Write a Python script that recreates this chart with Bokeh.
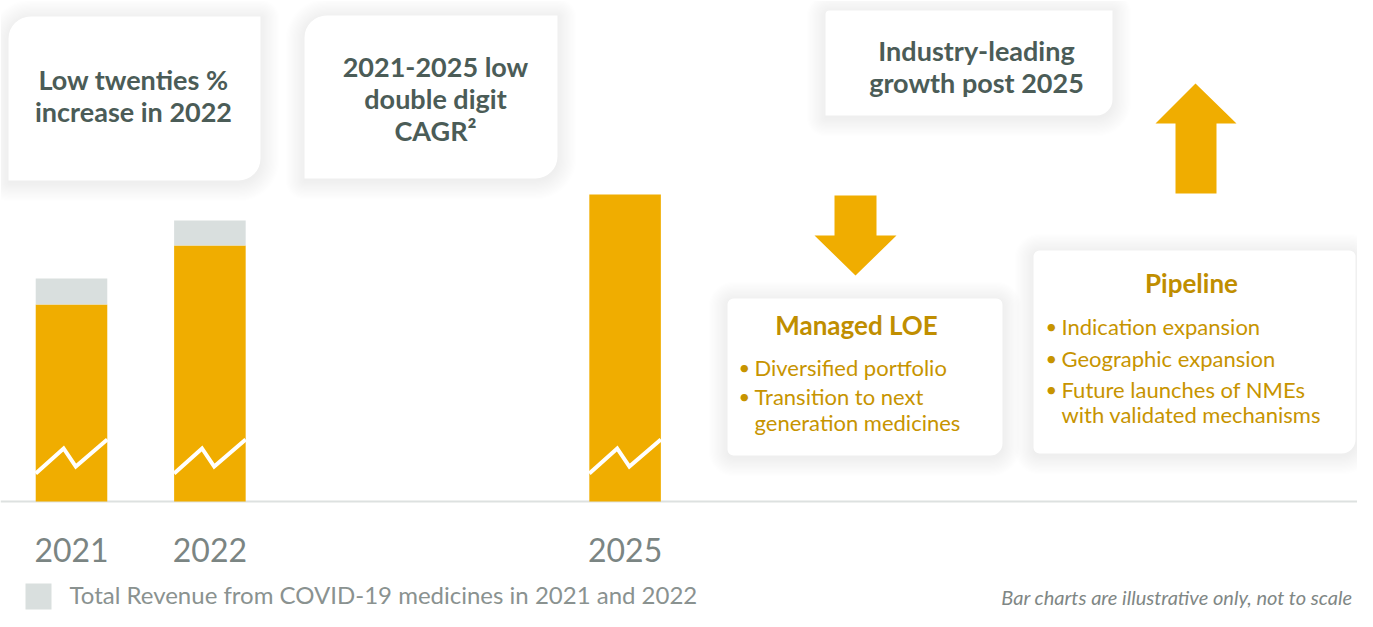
from bokeh.plotting import figure
from bokeh.models import Range1d
from bokeh.core.properties import value
from bokeh.embed import file_html
from bokeh.resources import INLINE

# ---- data (illustrative index units, 2021 total = 100) ----
years = [2021, 2022, 2025]
year_labels = ["2021", "2022", "2025"]
ex_covid = [88.3, 114.8, 137.7]
covid = [11.7, 11.2, 0.0]
legend_label = "Total Revenue from COVID-19 medicines in 2021 and 2022"
footnote = "Bar charts are illustrative only, not to scale"

box1_lines = ["Low twenties %", "increase in 2022"]
box2_lines = ["2021-2025 low", "double digit", "CAGR\u00b2"]
box3_lines = ["Industry-leading", "growth post 2025"]
loe_title = "Managed LOE"
loe_bullets = ["Diversified portfolio", "Transition to next", "generation medicines"]
pipe_title = "Pipeline"
pipe_bullets = ["Indication expansion", "Geographic expansion", "Future launches of NMEs", "with validated mechanisms"]

ORANGE = "#f0ad00"
GREY = "#d9dfde"
DARK = "#4b5c57"
GOLD = "#c08e00"
GOLD2 = "#c79400"
FONT = value("Lato")

W, H = 1357, 611
p = figure(width=W, height=H, output_backend="svg", toolbar_location=None,
           x_range=Range1d(2020.487, 2030.292), y_range=Range1d(-49.33, 224.66),
           min_border=0, min_border_left=0, min_border_right=0,
           min_border_top=0, min_border_bottom=0)
p.axis.visible = False
p.grid.visible = False
p.outline_line_color = None
p.background_fill_color = "white"
p.border_fill_color = "white"
p.extra_x_ranges = {"px": Range1d(0, 1357)}
p.extra_y_ranges = {"px": Range1d(611, 0)}
PX = dict(x_range_name="px", y_range_name="px")

# ---- boxes with soft shadow ----
boxes = [
    # left, right, top, bottom, radius (tl, tr, br, bl)
    (8, 260, 16, 180, (22, 0, 22, 0)),
    (304, 557, 15, 178, (22, 0, 22, 0)),
    (825, 1112, 10, 115, (4, 0, 16, 0)),
    (727, 1002, 298, 455, (6, 6, 12, 6)),
    (1033, 1355, 250, 453, (6, 6, 14, 6)),
]
for (l, r, t, b, rad) in boxes:
    for k in range(16, 0, -1):
        e = k * 1.2
        p.quad(left=l - e, right=r + e, top=t - e + 2, bottom=b + e + 2,
               fill_color="#000000", fill_alpha=0.0045, line_color=None,
               border_radius=[int(x + e) for x in rad], **PX)
for (l, r, t, b, rad) in boxes:
    p.quad(left=l, right=r, top=t, bottom=b, fill_color="white",
           line_color=None, border_radius=list(rad), **PX)

# ---- baseline ----
p.segment(x0=[0], y0=[501], x1=[1373], y1=[501], line_color="#dde1e0", line_width=2, **PX)

# ---- bars ----
bw = 0.517
totals = [a + c for a, c in zip(ex_covid, covid)]
p.vbar(x=years, width=bw, bottom=0, top=ex_covid, fill_color=ORANGE, line_color=None)
p.vbar(x=years, width=bw, bottom=ex_covid, top=totals, fill_color=GREY, line_color=None)

# zig-zag break marks (decorative)
fx = [0.0, 0.39, 0.56, 1.0]
dy = [28, 53, 35, 62]
zx = [[yr - bw / 2 + f * bw for f in fx] for yr in years]
zy = [[501 - d for d in dy] for _ in years]
p.multi_line(xs=zx, ys=zy, line_color="white", line_width=4, line_join="miter", y_range_name="px")

# year labels
p.text(x=years, y=[549] * 3, text=year_labels, text_align="center", text_baseline="middle",
       text_font=FONT, text_font_size="32px", text_color="#7b8583", y_range_name="px")

# ---- arrows ----
down_x = [834, 876, 876, 896, 855, 814, 834]
down_y = [195, 195, 235, 235, 275, 235, 235]
up_x = [1175, 1216, 1216, 1236, 1195, 1155, 1175]
up_y = [193, 193, 123, 123, 83, 123, 123]
p.patches(xs=[down_x, up_x], ys=[down_y, up_y], fill_color=ORANGE, line_color=None, **PX)

# ---- box texts ----
def lines(xc, ys, txts, size, color, style="bold", align="center", baseline="middle"):
    p.text(x=[xc] * len(txts), y=ys, text=txts, text_align=align, text_baseline=baseline,
           text_font=FONT, text_font_size=size, text_font_style=style, text_color=color, **PX)

lines(133, [79, 111], box1_lines, "27px", DARK)
lines(435, [66, 98, 130], box2_lines, "27px", DARK)
lines(976, [50, 82], box3_lines, "27px", DARK)

lines(856, [324], [loe_title], "26px", GOLD)
lines(754, [367, 396, 422], loe_bullets, "22px", GOLD2, style="normal", align="left")
lines(738, [366, 395], ["\u2022", "\u2022"], "20px", GOLD2, style="normal", align="left")

lines(1191, [282], [pipe_title], "26px", GOLD)
lines(1061, [326, 358, 389, 414], pipe_bullets, "22px", GOLD2, style="normal", align="left")
lines(1045, [325, 357, 388], ["\u2022", "\u2022", "\u2022"], "20px", GOLD2, style="normal", align="left")

# ---- legend & footnote ----
p.quad(left=[25], right=[51], top=[583], bottom=[609], fill_color=GREY, line_color=None, **PX)
lines(69, [594], [legend_label], "24px", "#8a9290", style="normal", align="left")
lines(1352, [596], [footnote], "20px", "#7f8785", style="italic", align="right")

open("out.html", "w").write(file_html(p, INLINE))
